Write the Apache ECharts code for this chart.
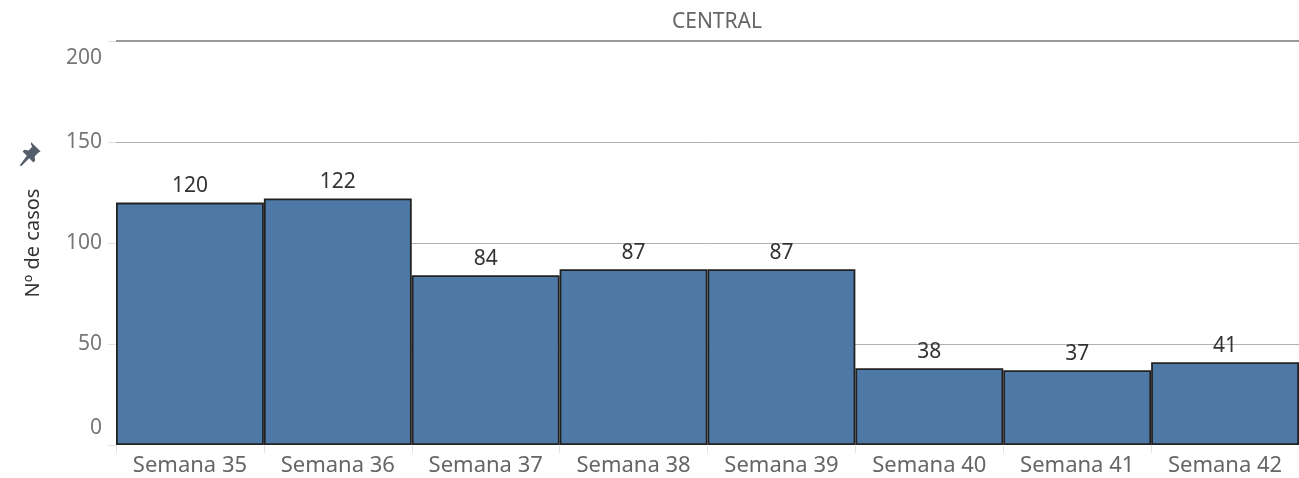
<!DOCTYPE html>
<html>
<head>
<meta charset="utf-8">
<script src="https://cdn.jsdelivr.net/npm/echarts@6/dist/echarts.min.js"></script>
<style>
  html, body { margin: 0; padding: 0; background: #fff; }
  #chart-container { width: 1299px; height: 478px; }
</style>
</head>
<body>
<div id="chart-container"></div>
<script>
const categories = ['Semana 35', 'Semana 36', 'Semana 37', 'Semana 38', 'Semana 39', 'Semana 40', 'Semana 41', 'Semana 42'];
const casos = [120, 122, 84, 87, 87, 38, 37, 41];
const yTicks = [0, 50, 100, 150, 200];
const panelTitle = 'CENTRAL';
const yName = 'Nº de casos';

const font = 'Noto Sans';
const yMin = yTicks[0];
const yMax = yTicks[yTicks.length - 1];
var chartDom = document.getElementById('chart-container');
var myChart = echarts.init(chartDom);
var option;

option = {
    animation: false,
    textStyle: { fontFamily: font },
    title: {
        text: panelTitle,
        left: 712,
        textAlign: 'center',
        top: 7,
        textStyle: { fontSize: 21, fontWeight: 'normal', color: '#666', fontFamily: font }
    },
    grid: {
        left: 116,
        right: 0,
        top: 41,
        bottom: 33,
        containLabel: false
    },
    xAxis: {
        type: 'category',
        data: categories,
        axisLine: { show: false },
        axisTick: { show: true, length: 8, interval: 0, lineStyle: { color: '#e4e4e4' } },
        axisLabel: { color: '#666', fontSize: 22, margin: 10, interval: 0, hideOverlap: false, fontFamily: font }
    },
    yAxis: {
        type: 'value',
        min: yMin,
        max: yMax,
        interval: 50,
        name: yName,
        nameLocation: 'middle',
        nameGap: 73,
        nameTextStyle: { color: '#333', fontSize: 20, fontFamily: font },
        axisLine: { show: false },
        axisTick: { show: true, length: 8, lineStyle: { color: '#e4e4e4' } },
        axisLabel: {
            color: '#777',
            fontSize: 21,
            margin: 14,
            fontFamily: font,
            formatter: function (v) {
                if (v === yMax) return '{top|' + v + '}';
                if (v === yMin) return '{bot|' + v + '}';
                return '{mid|' + v + '}';
            },
            rich: {
                top: { color: '#777', fontSize: 21, fontFamily: font, padding: [34, 0, 0, 0] },
                bot: { color: '#777', fontSize: 21, fontFamily: font, padding: [0, 0, 34, 0] },
                mid: { color: '#777', fontSize: 21, fontFamily: font }
            }
        },
        splitLine: { show: true, lineStyle: { color: ['transparent', '#b0b0b0', '#b0b0b0', '#b0b0b0', 'transparent'], width: 1 } }
    },
    graphic: [
        {
            type: 'polygon',
            x: 19,
            y: 142,
            scaleX: 1.2,
            scaleY: 1.2,
            shape: {
                points: [[10, 0], [18, 8], [16, 9], [13, 12], [13.5, 15.5], [12, 17], [8.5, 13.5], [2, 20], [0.5, 19.5], [6.5, 11.5], [3, 8], [4.5, 6.5], [8, 7], [11, 4], [10, 2]]
            },
            style: { fill: '#555e6b' }
        }
    ],
    series: [
        {
            name: yName,
            type: 'bar',
            data: casos,
            barCategoryGap: 0,
            itemStyle: { color: '#4e79a7', borderColor: '#222', borderWidth: 1.8 },
            label: {
                show: true,
                position: 'top',
                distance: 6,
                color: '#333',
                fontSize: 21,
                fontFamily: font
            },
            markLine: {
                silent: true,
                symbol: 'none',
                label: { show: false },
                lineStyle: { color: '#999', width: 2, type: 'solid' },
                data: [{ yAxis: yMax }]
            }
        }
    ]
};

option && myChart.setOption(option);
</script>
</body>
</html>
